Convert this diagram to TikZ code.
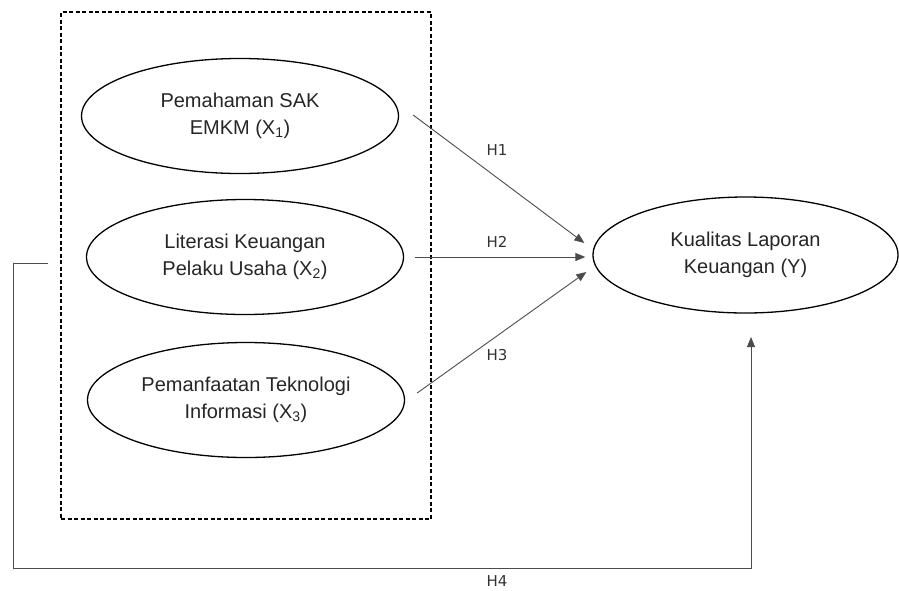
\documentclass[tikz,border=0pt]{standalone}
\usepackage{fontspec}
\setmainfont{Liberation Sans}
\newfontfamily\hfont{DejaVu Sans}
\usetikzlibrary{shapes.geometric, arrows.meta, positioning}

\begin{document}
\begin{tikzpicture}[x=1pt, y=-1pt,
	var/.style={ellipse,draw,line width=1.3pt,inner sep=0pt,minimum width=317pt,minimum height=115pt,align=center,text=black!85,font=\fontsize{20}{27}\selectfont},
	hyp/.style={-{Triangle[length=10pt,width=8pt]},line width=0.9pt,draw=black!70},
	lbl/.style={inner sep=0pt,text=black!80,font=\hfont\fontsize{15}{18}\selectfont}]
	\useasboundingbox (0,0) rectangle (899,590);
	\node[draw,dash pattern=on 4pt off 2.5pt,line width=1.2pt,minimum width=370pt,minimum height=507pt,inner sep=0pt] (box) at (246,265.5) {};
	\node[var] (x1) at (240,116) {Pemahaman SAK\\EMKM (X\textsubscript{1})};
	\node[var] (x2) at (245,257) {Literasi Keuangan\\Pelaku Usaha (X\textsubscript{2})};
	\node[var] (x3) at (246,400) {Pemanfaatan Teknologi\\Informasi (X\textsubscript{3})};
	\node[var,minimum width=305pt,minimum height=116pt] (y) at (745.5,255) {Kualitas Laporan\\Keuangan (Y)};
	\draw[hyp] ([shift={(14,-1)}]x1.east) -- ([shift={(-8,-12)}]y.west);
	\draw[hyp] ([shift={(11,0)}]x2.east) -- ([shift={(-7,2)}]y.west);
	\draw[hyp] ([shift={(12,-7)}]x3.east) -- ([shift={(-6,17)}]y.west);
	\node[lbl] (h1) at (497,150) {H1};
	\node[lbl] (h2) at (497,242) {H2};
	\node[lbl] (h3) at (497,355) {H3};
	% joint effect of X1..X3 on Y
	\coordinate (h4a) at (48,263);
	\coordinate (h4b) at (751,337);
	\draw[hyp] (h4a) -| (13,568) -| (h4b);
	\node[lbl] (h4) at (497,581) {H4};
\end{tikzpicture}
\end{document}
